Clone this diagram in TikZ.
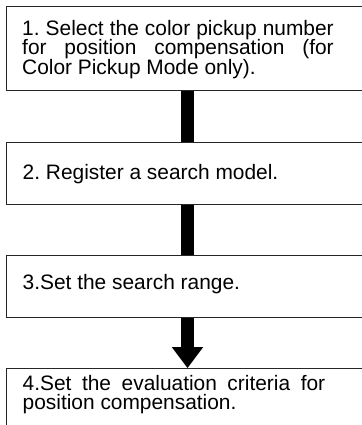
\documentclass[tikz,border=0pt]{standalone}
\usepackage{fontspec}
\setmainfont{Liberation Sans}
\usetikzlibrary{calc}
\begin{document}
\frenchspacing
\begin{tikzpicture}[x=1pt,y=-1pt,
  stepbox/.style={draw=black!85, line width=1pt, anchor=north west, inner sep=0pt, minimum width=359pt},
  txt/.style={anchor=north west, inner sep=0pt, align=left, font=\fontsize{20.9}{19.5}\selectfont\frenchspacing},
  bar/.style={line width=13pt, black}]
\useasboundingbox (0,0) rectangle (361,425);
% boxes
\node[stepbox, minimum height=84pt] (b1) at (6,6) {};
\node[stepbox, minimum height=62.3pt] (b2) at (6,141.7) {};
\node[stepbox, minimum height=62pt] (b3) at (6,255) {};
\node[stepbox, minimum height=70pt] (b4) at (6,368) {};
% texts
\node[txt] (t1) at (22,20) {\rule{0pt}{15pt}\makebox[311.5pt][s]{1. Select the color pickup number}\\
  \makebox[311.5pt][s]{for position compensation (for}\\
  Color Pickup Mode only).};
\node[txt] (t2) at (22.5,164.5) {\rule{0pt}{15pt}2. Register a search model.};
\node[txt] (t3) at (22.5,274.3) {\rule{0pt}{15pt}3.Set the search range.};
\node[txt] (t4) at (22.5,375) {\rule{0pt}{15pt}\makebox[302.5pt][s]{4.Set the evaluation criteria for}\\
  position compensation.};
% connectors
\coordinate (bx) at (187.5,0);
\draw[bar] (b1.south -| bx) -- (b2.north -| bx);
\draw[bar] (b2.south -| bx) -- (b3.north -| bx);
\draw[bar] (b3.south -| bx) -- ($(b4.north -| bx)+(0,-20.5)$);
\fill[black] (b4.north -| bx) -- ++(-15.8,-21) -- ++(31.6,0) -- cycle;
\end{tikzpicture}
\end{document}
